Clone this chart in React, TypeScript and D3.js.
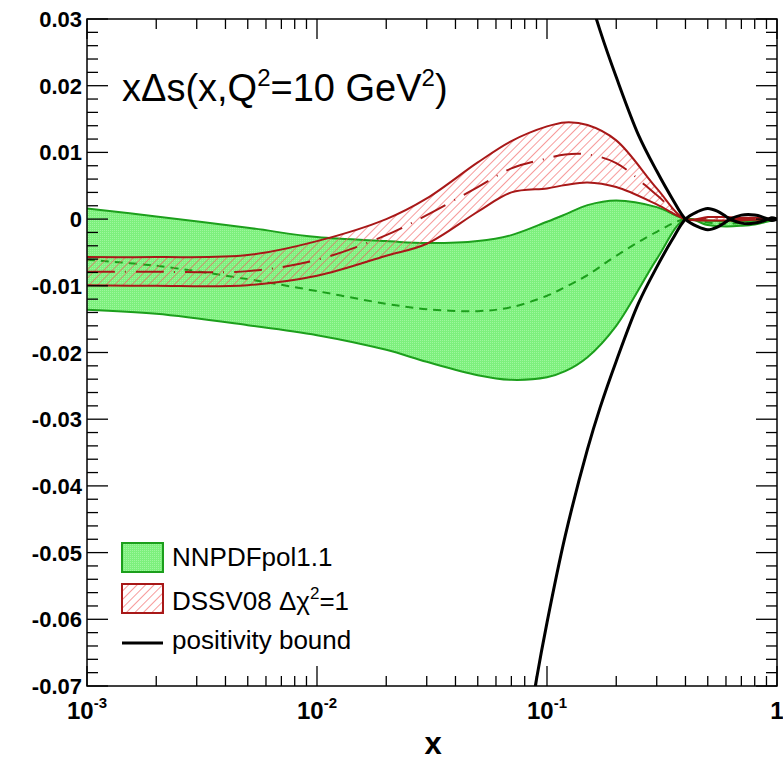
import React from "react";
import * as d3 from "d3";

// x grid shared by the two PDF bands
const xGrid = [0.001, 0.002, 0.005, 0.01, 0.02, 0.03, 0.05, 0.07, 0.1, 0.12, 0.15, 0.2, 0.3, 0.4, 0.5, 0.6, 0.7, 0.8, 0.9, 1.0];

// NNPDFpol1.1 band
const nnpdfUpper = [0.0016, 0.0004, -0.0013, -0.0027, -0.0033, -0.0036, -0.0033, -0.0024, -0.0004, 0.0007, 0.0021, 0.0028, 0.0018, 0.0, -0.0002, -0.0003, -0.0003, -0.0002, -0.0001, 0.0];
const nnpdfLower = [-0.0136, -0.0142, -0.0159, -0.0174, -0.0196, -0.0214, -0.0234, -0.0241, -0.0237, -0.0228, -0.0207, -0.016, -0.006, 0.0, -0.0009, -0.0011, -0.001, -0.0008, -0.0004, 0.0];
const nnpdfCentral = [-0.0061, -0.007, -0.009, -0.0108, -0.0127, -0.0135, -0.0138, -0.0132, -0.0115, -0.0102, -0.0084, -0.0055, -0.0019, 0.0, -0.0005, -0.0007, -0.0006, -0.0005, -0.0003, 0.0];

// DSSV08 band
const dssvUpper = [-0.0057, -0.0057, -0.0054, -0.0033, 0.0, 0.0031, 0.0085, 0.0117, 0.0139, 0.0145, 0.0141, 0.0118, 0.0046, 0.0, 0.0003, 0.0003, 0.0002, 0.0002, 0.0001, 0.0];
const dssvLower = [-0.0099, -0.01, -0.0099, -0.0085, -0.0055, -0.0037, 0.0011, 0.004, 0.0046, 0.0051, 0.0055, 0.0048, 0.0022, 0.0, -0.0002, -0.0002, -0.0002, -0.0001, -0.0001, 0.0];
const dssvCentral = [-0.0079, -0.0079, -0.0078, -0.0061, -0.0024, 0.0006, 0.0048, 0.0076, 0.0091, 0.0097, 0.0097, 0.0084, 0.0036, 0.0, 0.0001, 0.0, 0.0, 0.0, 0.0, 0.0];

// positivity bound
const boundX = [0.08, 0.09, 0.1, 0.12, 0.15, 0.17, 0.2, 0.25, 0.3, 0.35, 0.4, 0.45, 0.5, 0.55, 0.6, 0.625, 0.7, 0.75, 0.8, 0.85, 0.914, 0.95, 1.0];
const boundUpper = [0.08, 0.069, 0.0605, 0.0475, 0.0345, 0.0283, 0.0213, 0.0126, 0.0072, 0.0031, 0.0, -0.0011, -0.0016, -0.0012, -0.0004, 0.0, 0.0006, 0.0007, 0.0006, 0.0004, 0.0, -0.0002, 0.0];
const boundLower = [-0.08, -0.069, -0.0605, -0.0475, -0.0345, -0.0283, -0.0213, -0.0126, -0.0072, -0.0031, 0.0, 0.0011, 0.0016, 0.0012, 0.0004, 0.0, -0.0006, -0.0007, -0.0006, -0.0004, 0.0, 0.0002, 0.0];

// axis ticks
const yTickValues = [0.03, 0.02, 0.01, 0, -0.01, -0.02, -0.03, -0.04, -0.05, -0.06, -0.07];
const yTickLabels = ["0.03", "0.02", "0.01", "0", "-0.01", "-0.02", "-0.03", "-0.04", "-0.05", "-0.06", "-0.07"];
const xDecades = [0.001, 0.01, 0.1, 1];
const xDecadeExp = ["-3", "-2", "-1", ""];

const W = 783;
const H = 761;
const left = 87;
const right = 777;
const top = 19;
const bottom = 686;

const FONT = "'Liberation Sans', Arial, Helvetica, sans-serif";
const GREEN_EDGE = "#1c9f1c";
const RED_EDGE = "#a81818";

export default function App() {
  const xs = d3.scaleLog().domain([0.001, 1]).range([left, right]);
  const ys = d3.scaleLinear().domain([-0.07, 0.03]).range([bottom, top]);
  const curve = d3.curveCatmullRom.alpha(0.5);

  type P = { x: number; lo: number; hi: number; c: number };
  const nn: P[] = xGrid.map((x, i) => ({ x, lo: nnpdfLower[i], hi: nnpdfUpper[i], c: nnpdfCentral[i] }));
  const ds: P[] = xGrid.map((x, i) => ({ x, lo: dssvLower[i], hi: dssvUpper[i], c: dssvCentral[i] }));

  const area = d3
    .area<P>()
    .x((d) => xs(d.x))
    .y0((d) => ys(d.lo))
    .y1((d) => ys(d.hi))
    .curve(curve);
  const lineOf = (key: "lo" | "hi" | "c") =>
    d3
      .line<P>()
      .x((d) => xs(d.x))
      .y((d) => ys(d[key]))
      .curve(curve);

  const boundLine = d3
    .line<[number, number]>()
    .x((d) => xs(d[0]))
    .y((d) => ys(d[1]))
    .curve(curve);
  const bUp = boundX.map((x, i) => [x, boundUpper[i]] as [number, number]);
  const bLo = boundX.map((x, i) => [x, boundLower[i]] as [number, number]);

  // minor ticks
  const yMinor = d3.range(-0.07, 0.0301, 0.002).map((v) => +v.toFixed(4));
  const xMinor: number[] = [];
  for (const dec of [0.001, 0.01, 0.1]) for (let k = 2; k <= 9; k++) xMinor.push(dec * k);

  return (
    <svg width={W} height={H} style={{ position: "absolute", left: 0, top: 0, background: "#fff" }}>
      <defs>
        <clipPath id="plotArea">
          <rect x={left} y={top} width={right - left} height={bottom - top} />
        </clipPath>
        <pattern id="greenFill" width="2" height="2" patternUnits="userSpaceOnUse">
          <rect width="2" height="2" fill="#7df07d" />
          <rect width="1" height="1" fill="#9ef79e" />
        </pattern>
        <pattern id="redHatch" width="6" height="6" patternUnits="userSpaceOnUse" patternTransform="rotate(45)">
          <line x1="0" y1="0" x2="0" y2="6" stroke="#f25858" strokeWidth="1.2" />
        </pattern>
      </defs>
      <rect width={W} height={H} fill="#fff" />

      <g clipPath="url(#plotArea)">
        {/* NNPDF band */}
        <path d={area(nn) || ""} fill="url(#greenFill)" stroke="none" />
        <path d={lineOf("hi")(nn) || ""} fill="none" stroke={GREEN_EDGE} strokeWidth={2} />
        <path d={lineOf("lo")(nn) || ""} fill="none" stroke={GREEN_EDGE} strokeWidth={2} />
        <path d={lineOf("c")(nn) || ""} fill="none" stroke={GREEN_EDGE} strokeWidth={2} strokeDasharray="8 6" />

        {/* DSSV band */}
        <path d={area(ds) || ""} fill="url(#redHatch)" stroke="none" />
        <path d={lineOf("hi")(ds) || ""} fill="none" stroke={RED_EDGE} strokeWidth={2} />
        <path d={lineOf("lo")(ds) || ""} fill="none" stroke={RED_EDGE} strokeWidth={2} />
        <path d={lineOf("c")(ds) || ""} fill="none" stroke={RED_EDGE} strokeWidth={2} strokeDasharray="28 10 1 10" />

        {/* positivity bound */}
        <path d={boundLine(bUp) || ""} fill="none" stroke="#000" strokeWidth={3} />
        <path d={boundLine(bLo) || ""} fill="none" stroke="#000" strokeWidth={3} />
      </g>

      {/* frame */}
      <rect x={left} y={top} width={right - left} height={bottom - top} fill="none" stroke="#000" strokeWidth={1.5} />

      {/* y ticks, left and right */}
      {yMinor.map((v, i) => {
        const major = Math.abs(Math.round(v * 100) - v * 100) < 1e-6;
        const len = major ? 21 : 11;
        const y = ys(v);
        return (
          <g key={"yt" + i}>
            <line x1={left} x2={left + len} y1={y} y2={y} stroke="#000" strokeWidth={1.3} />
            <line x1={right} x2={right - len} y1={y} y2={y} stroke="#000" strokeWidth={1.3} />
          </g>
        );
      })}
      {/* x ticks, bottom and top */}
      {xDecades.map((v, i) => (
        <g key={"xM" + i}>
          <line x1={xs(v)} x2={xs(v)} y1={bottom} y2={bottom - 20} stroke="#000" strokeWidth={1.3} />
          <line x1={xs(v)} x2={xs(v)} y1={top} y2={top + 20} stroke="#000" strokeWidth={1.3} />
        </g>
      ))}
      {xMinor.map((v, i) => (
        <g key={"xm" + i}>
          <line x1={xs(v)} x2={xs(v)} y1={bottom} y2={bottom - 10} stroke="#000" strokeWidth={1.3} />
          <line x1={xs(v)} x2={xs(v)} y1={top} y2={top + 10} stroke="#000" strokeWidth={1.3} />
        </g>
      ))}

      {/* y tick labels */}
      {yTickValues.map((v, i) => (
        <text
          key={"yl" + i}
          x={82}
          y={ys(v) + 8}
          textAnchor="end"
          fontFamily={FONT}
          fontWeight="bold"
          fontSize={22}
        >
          {yTickLabels[i]}
        </text>
      ))}

      {/* x tick labels */}
      {xDecades.map((v, i) =>
        xDecadeExp[i] ? (
          <text key={"xl" + i} x={xs(v)} y={719} textAnchor="middle" fontFamily={FONT} fontWeight="bold" fontSize={24}>
            10
            <tspan fontSize={15} dy={-11}>
              {xDecadeExp[i]}
            </tspan>
          </text>
        ) : (
          <text key={"xl" + i} x={xs(v)} y={719} textAnchor="middle" fontFamily={FONT} fontWeight="bold" fontSize={24}>
            1
          </text>
        )
      )}

      {/* axis title */}
      <text x={433} y={754} textAnchor="middle" fontFamily={FONT} fontWeight="bold" fontSize={31}>
        x
      </text>

      {/* plot title */}
      <text x={122} y={101} fontFamily={FONT} fontSize={38}>
        xΔs(x,Q
        <tspan fontSize={24} dy={-15}>2</tspan>
        <tspan dy={15}>=10 GeV</tspan>
        <tspan fontSize={24} dy={-15}>2</tspan>
        <tspan dy={15}>)</tspan>
      </text>

      {/* legend */}
      <rect x={122} y={543} width={41} height={29} fill="url(#greenFill)" stroke={GREEN_EDGE} strokeWidth={2} />
      <text x={172} y={566} fontFamily={FONT} fontSize={26}>
        NNPDFpol1.1
      </text>
      <rect x={122} y={584} width={41} height={29} fill="#fff" stroke="none" />
      <rect x={122} y={584} width={41} height={29} fill="url(#redHatch)" stroke={RED_EDGE} strokeWidth={2} />
      <text x={172} y={610} fontFamily={FONT} fontSize={26}>
        DSSV08 Δχ
        <tspan fontSize={17} dy={-11}>2</tspan>
        <tspan dy={11}>=1</tspan>
      </text>
      <line x1={122} x2={163} y1={643} y2={643} stroke="#000" strokeWidth={3} />
      <text x={172} y={649} fontFamily={FONT} fontSize={26}>
        positivity bound
      </text>
    </svg>
  );
}
